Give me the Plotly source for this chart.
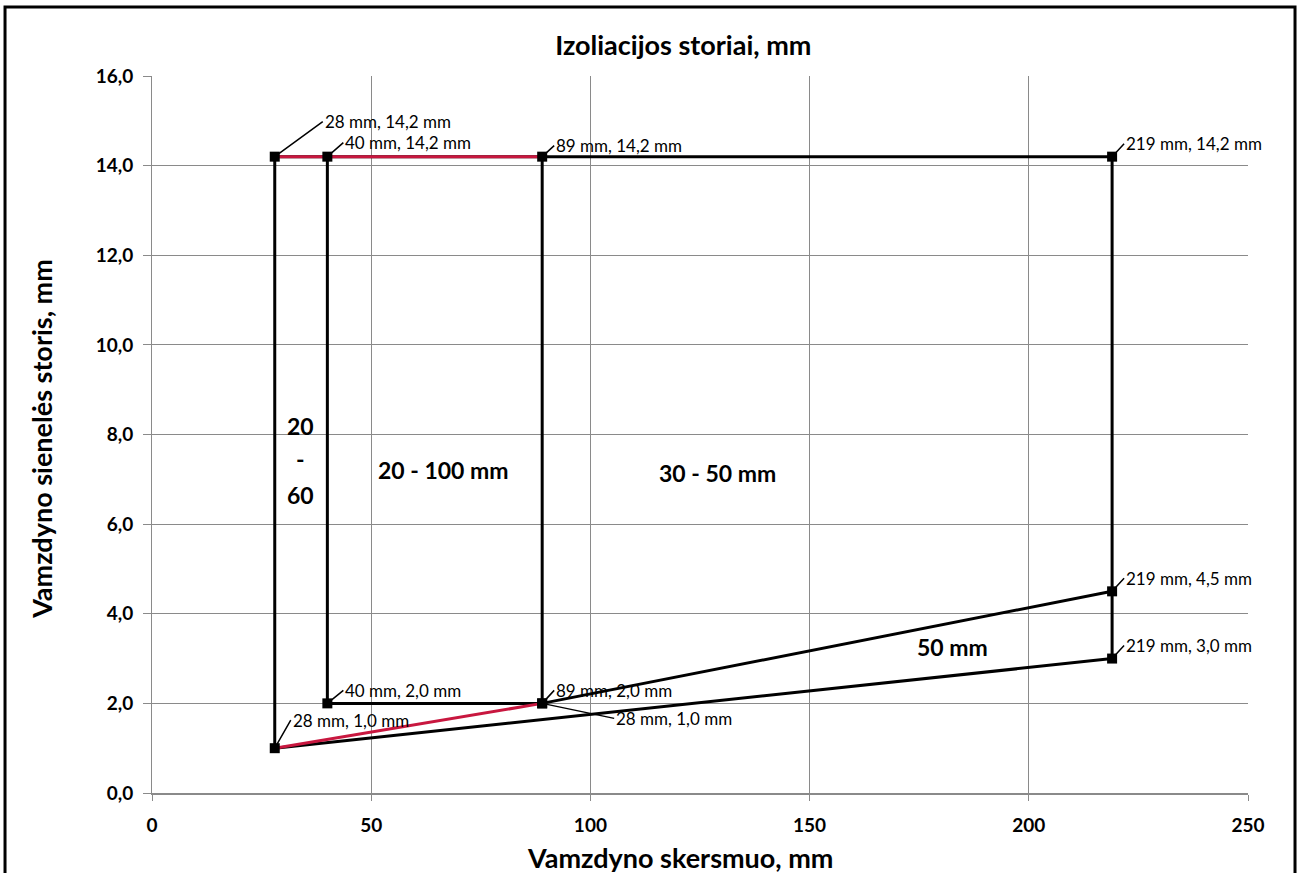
import plotly.graph_objects as go

# Data
outer_x = [28, 28, 219, 219]
outer_y = [1.0, 14.2, 14.2, 3.0]
low_x = [28, 219]
low_y = [1.0, 3.0]
mid_x = [89, 219]
mid_y = [2.0, 4.5]
box40_x = [40, 40, 89, 89]
box40_y = [14.2, 2.0, 2.0, 14.2]
red_top_x = [28, 89]
red_top_y = [14.2, 14.2]
red_low_x = [28, 89]
red_low_y = [1.0, 2.0]

point_x = [28, 40, 89, 219, 219, 219, 40, 89, 28, 89]
point_y = [14.2, 14.2, 14.2, 14.2, 4.5, 3.0, 2.0, 2.0, 1.0, 2.0]
point_labels = ["28 mm, 14,2 mm", "40 mm, 14,2 mm", "89 mm, 14,2 mm", "219 mm, 14,2 mm",
                "219 mm, 4,5 mm", "219 mm, 3,0 mm", "40 mm, 2,0 mm", "89 mm, 2,0 mm",
                "28 mm, 1,0 mm", "28 mm, 1,0 mm"]
label_ax = [48, 16, 12, 12, 12, 12, 16, 12, 16, 72]
label_ay = [-35, -14, -11, -13, -13, -13, -13, -13, -28, 15]

zone_texts = ["20", "-", "60", "20 - 100 mm", "30 - 50 mm", "50 mm"]
zone_x = [33.8, 33.8, 33.8, 66.4, 129.0, 182.5]
zone_y = [8.2, 7.45, 6.65, 7.2, 7.15, 3.25]

x_ticks = [0, 50, 100, 150, 200, 250]
y_ticks = [0, 2, 4, 6, 8, 10, 12, 14, 16]

FONT = "Lato"
RED = "#C8173F"

fig = go.Figure()
line_style = dict(color="black", width=3)
fig.add_trace(go.Scatter(x=outer_x, y=outer_y, mode="lines", line=line_style))
fig.add_trace(go.Scatter(x=low_x, y=low_y, mode="lines", line=line_style))
fig.add_trace(go.Scatter(x=mid_x, y=mid_y, mode="lines", line=line_style))
fig.add_trace(go.Scatter(x=box40_x, y=box40_y, mode="lines", line=line_style))
fig.add_trace(go.Scatter(x=red_top_x, y=red_top_y, mode="lines", line=dict(color=RED, width=3)))
fig.add_trace(go.Scatter(x=red_low_x, y=red_low_y, mode="lines", line=dict(color=RED, width=3)))
fig.add_trace(go.Scatter(x=point_x, y=point_y, mode="markers",
                         marker=dict(symbol="square", size=10, color="black")))

for x, y, t, ax, ay in zip(point_x, point_y, point_labels, label_ax, label_ay):
    fig.add_annotation(x=x, y=y, text=t, showarrow=True, ax=ax, ay=ay,
                       xanchor="left", yanchor="middle", arrowhead=0, arrowwidth=1.5,
                       arrowcolor="black", standoff=0,
                       font=dict(family=FONT, size=17, color="black"))

for t, x, y in zip(zone_texts, zone_x, zone_y):
    fig.add_annotation(x=x, y=y, text="<b>" + t + "</b>", showarrow=False,
                       font=dict(family=FONT, size=23, color="black"))

# axis titles
fig.add_annotation(xref="paper", yref="paper", x=0.4818, y=-0.0893,
                   text="<b>Vamzdyno skersmuo, mm</b>", showarrow=False,
                   xanchor="center", yanchor="middle",
                   font=dict(family=FONT, size=27, color="black"))
fig.add_annotation(xref="paper", yref="paper", x=-0.1003, y=0.494,
                   text="<b>Vamzdyno sienelės storis, mm</b>", showarrow=False,
                   textangle=-90, xanchor="center", yanchor="middle",
                   font=dict(family=FONT, size=27, color="black"))

# outer frame
fig.add_shape(type="rect", xref="paper", yref="paper", x0=-0.1341, x1=1.0429,
              y0=-0.13, y1=1.0962, line=dict(color="black", width=3))

fig.update_layout(
    width=1299, height=873,
    margin=dict(l=152, r=51, t=76, b=80),
    paper_bgcolor="white", plot_bgcolor="white",
    showlegend=False,
    separators=", ",
    font=dict(family=FONT, color="black"),
    title=dict(text="<b>Izoliacijos storiai, mm</b>", x=0.526, xanchor="center",
               y=0.948, yanchor="middle", font=dict(family=FONT, size=27, color="black")),
)
fig.update_xaxes(range=[0, 250], tickvals=x_ticks, tickformat="d",
                 showgrid=True, gridcolor="#8a8a8a", gridwidth=1,
                 showline=True, linecolor="#8a8a8a", linewidth=2,
                 ticks="outside", ticklen=6, tickcolor="#8a8a8a", zeroline=False,
                 ticklabelstandoff=8,
                 tickfont=dict(family=FONT, size=19, color="black", weight="bold"))
fig.update_yaxes(range=[0, 16], tickvals=y_ticks, tickformat=".1f",
                 showgrid=True, gridcolor="#8a8a8a", gridwidth=1,
                 showline=True, linecolor="#8a8a8a", linewidth=1,
                 ticks="outside", ticklen=8, tickcolor="#8a8a8a", zeroline=False,
                 ticklabelstandoff=6,
                 tickfont=dict(family=FONT, size=19, color="black", weight="bold"))

fig.write_html("out.html", config={"displayModeBar": False},
               post_script="document.body.style.margin='0px';")
